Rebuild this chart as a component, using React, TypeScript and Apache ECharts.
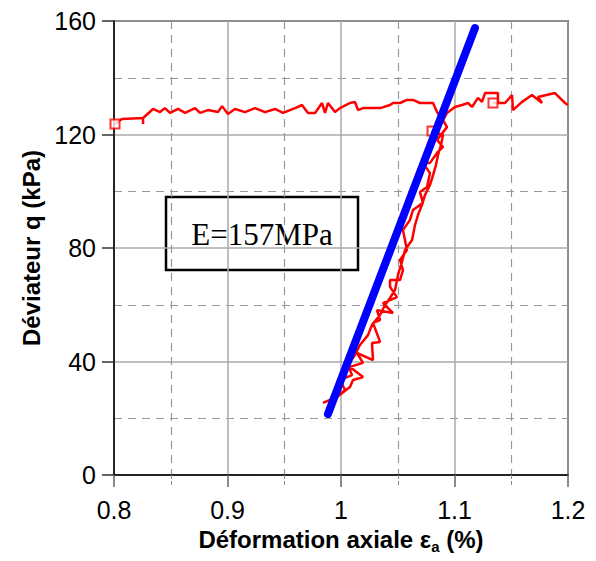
import React, { useEffect, useRef } from "react";
import * as echarts from "echarts";

// Red measured curve: axial strain (%) and deviator q (kPa)
const strain: number[] = [
  0.8009, 0.807, 0.8256, 0.8256, 0.8256, 0.8344, 0.8405, 0.8449, 0.8493, 0.8564,
  0.8626, 0.8714, 0.8758, 0.8828, 0.8916, 0.8952, 0.9004, 0.9066, 0.9154, 0.9242,
  0.933, 0.9419, 0.9489, 0.9595, 0.9656, 0.9709, 0.9771, 0.9833, 0.9859, 0.9885,
  0.9947, 0.9991, 1.0079, 1.0123, 1.015, 1.0194, 1.0344, 1.0432, 1.0458, 1.052,
  1.0581, 1.0634, 1.0696, 1.0811, 1.0846,
  1.0899, 1.0934, 1.0846, 1.0899, 1.0846, 1.0784, 1.0722, 1.0784, 1.0758, 1.0696,
  1.0722, 1.0634, 1.0608, 1.0546, 1.0581, 1.052, 1.0546, 1.052, 1.0432, 1.0432,
  1.0493, 1.037, 1.0458, 1.0317, 1.0344, 1.0282, 1.0344, 1.0273, 1.0282, 1.0141,
  1.0194, 1.0079, 1.0194, 1.0106, 1.0079, 0.9965, 0.9841,
  0.9947, 1.0035, 0.9991, 1.0097, 1.0062, 1.0123, 1.0167, 1.0238, 1.0273, 1.0344,
  1.0388, 1.0432, 1.0476, 1.0502, 1.0537, 1.0564, 1.0626, 1.0652, 1.0678, 1.0714,
  1.074, 1.0784, 1.0811, 1.0837, 1.0855, 1.0881, 1.0899, 1.0802, 1.0872, 1.0934,
  1.1004, 1.1066, 1.1119, 1.1154, 1.1207, 1.1242, 1.1269, 1.1383, 1.1383, 1.1339,
  1.1445, 1.1507, 1.1515, 1.1595, 1.1683, 1.1771, 1.1736, 1.1885, 1.1974, 1.2,
];
const deviator: number[] = [
  123.7, 125.5, 125.8, 123.7, 125.8, 129.0, 127.9, 129.3, 127.6, 129.0,
  127.6, 129.3, 127.6, 128.6, 127.9, 130.0, 127.2, 129.0, 127.9, 129.3,
  127.9, 129.0, 127.6, 129.3, 130.4, 127.6, 127.6, 131.1, 127.6, 131.1,
  127.9, 129.3, 131.1, 131.5, 128.6, 129.3, 129.3, 130.4, 131.1, 131.1,
  132.2, 132.2, 131.1, 131.1, 127.9,
  125.1, 122.6, 118.1, 115.6, 113.5, 110.0, 110.0, 106.4, 101.5, 99.7,
  95.9, 93.4, 89.9, 86.3, 79.3, 75.8, 72.2, 68.7, 68.7, 66.3,
  62.7, 60.6, 57.1, 58.1, 54.6, 53.6, 46.9, 46.5, 40.5, 43.0,
  39.5, 38.1, 34.5, 33.5, 31.0, 27.5, 25.4,
  27.1, 30.0, 33.5, 35.2, 38.8, 42.3, 45.8, 49.3, 52.9, 56.4,
  59.9, 62.4, 65.2, 70.5, 75.1, 79.3, 82.8, 88.1, 91.6, 95.2,
  98.7, 102.2, 105.7, 109.3, 112.8, 116.3, 119.8, 121.2, 123.0, 127.6,
  129.7, 130.4, 131.1, 129.7, 132.9, 131.5, 134.6, 134.6, 131.1, 131.1,
  131.1, 133.9, 128.6, 131.5, 133.9, 131.1, 133.2, 134.6, 131.1, 130.4,
];
// Square markers on the measured curve
const markerStrain: number[] = [0.8009, 1.0802, 1.1339];
const markerDeviator: number[] = [123.7, 121.2, 131.1];
// Blue fitted modulus line
const fitStrain: number[] = [0.9885, 1.118];
const fitDeviator: number[] = [21.5, 157.5];
const xTicks: number[] = [0.8, 0.9, 1.0, 1.1, 1.2];
const yTicks: number[] = [0, 40, 80, 120, 160];
const boxLabel = "E=157MPa";

export default function App() {
  const ref = useRef<HTMLDivElement>(null);
  useEffect(() => {
    if (!ref.current) return;
    const chart = echarts.init(ref.current, undefined, { renderer: "svg" });
    const font = "'Liberation Sans', Arial, Helvetica, sans-serif";
    const redData = strain.map((s, i) => [s, deviator[i]]);
    const markData = markerStrain.map((s, i) => [s, markerDeviator[i]]);
    const fitData = fitStrain.map((s, i) => [s, fitDeviator[i]]);
    chart.setOption({
      animation: false,
      backgroundColor: "#fff",
      grid: {
        left: 114,
        right: 28,
        top: 21,
        bottom: 86,
        containLabel: false,
        outerBoundsMode: "none",
        show: true,
        borderColor: "#000",
        borderWidth: 1.5,
        backgroundColor: "transparent",
      },
      xAxis: {
        type: "value",
        min: xTicks[0],
        max: xTicks[xTicks.length - 1],
        interval: 0.1,
        name: "{b|Déformation axiale ε}{s|a}{b| (%)}",
        nameLocation: "middle",
        nameGap: 50,
        nameTextStyle: {
          fontFamily: font,
          rich: {
            b: { fontSize: 24, fontWeight: "bold", fontFamily: font, color: "#000" },
            s: { fontSize: 15, fontWeight: "bold", fontFamily: font, color: "#000", padding: [14, 0, 0, 0] },
          },
        },
        axisLine: { show: true, onZero: false, lineStyle: { color: "#000", width: 1.5 } },
        axisTick: { show: true, inside: false, length: 12, lineStyle: { color: "#666", width: 1.5 } },
        minorTick: { show: true, splitNumber: 2, length: 10, lineStyle: { color: "#888", type: "dashed" } },
        axisLabel: {
          margin: 22,
          fontSize: 25,
          fontFamily: font,
          color: "#000",
          formatter: (v: number) => {
            const r = Math.round(v * 10) / 10;
            return xTicks.some((t) => Math.abs(t - r) < 1e-9) ? String(r) : "";
          },
        },
        splitLine: { show: true, lineStyle: { color: "#aaa", width: 1.5, type: "solid" } },
        minorSplitLine: { show: true, lineStyle: { color: "#999", width: 1.2, type: [8, 6] } },
      },
      yAxis: {
        type: "value",
        min: yTicks[0],
        max: yTicks[yTicks.length - 1],
        interval: 40,
        name: "Déviateur q (kPa)",
        nameLocation: "middle",
        nameGap: 66,
        nameRotate: 90,
        nameTextStyle: { fontSize: 24, fontWeight: "bold", fontFamily: font, color: "#000" },
        axisLine: { show: true, onZero: false, lineStyle: { color: "#000", width: 1.5 } },
        axisTick: { show: true, inside: false, length: 12, lineStyle: { color: "#333", width: 1.5 } },
        minorTick: { show: false, splitNumber: 2 },
        axisLabel: { margin: 18, fontSize: 25, fontFamily: font, color: "#000" },
        splitLine: { show: true, lineStyle: { color: "#aaa", width: 1.5, type: "solid" } },
        minorSplitLine: { show: true, lineStyle: { color: "#999", width: 1.2, type: [8, 6] } },
      },
      graphic: [
        {
          type: "group",
          z: 50,
          children: [
            {
              type: "rect",
              shape: { x: 166, y: 197, width: 192, height: 73 },
              style: { fill: "#fff", stroke: "#000", lineWidth: 2.5 },
            },
            {
              type: "text",
              x: 262,
              y: 234,
              style: {
                text: boxLabel,
                fontSize: 31,
                fontFamily: "'Liberation Serif', 'Times New Roman', serif",
                fill: "#000",
                align: "center",
                verticalAlign: "middle",
              },
            },
          ],
        },
      ],
      series: [
        {
          type: "line",
          data: redData,
          showSymbol: false,
          symbol: "none",
          lineStyle: { color: "#ff0000", width: 2.5 },
          z: 3,
          clip: true,
        },
        {
          type: "scatter",
          data: markData,
          symbol: "rect",
          symbolSize: 9,
          itemStyle: { color: "#fff", borderColor: "#ff0000", borderWidth: 2 },
          z: 4,
        },
        {
          type: "line",
          data: fitData,
          showSymbol: false,
          symbol: "none",
          lineStyle: { color: "#0000ff", width: 8, cap: "round" },
          z: 5,
        },
      ],
    });
    return () => chart.dispose();
  }, []);
  return <div ref={ref} style={{ width: 596, height: 561, position: "absolute", left: 0, top: 0 }} />;
}
